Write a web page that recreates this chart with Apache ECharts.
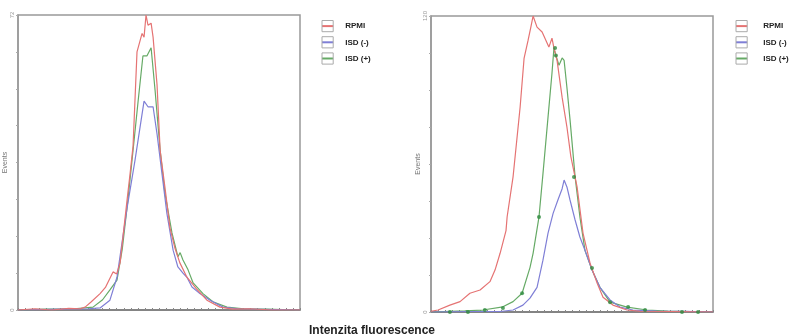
<!DOCTYPE html>
<html>
<head>
<meta charset="utf-8">
<script src="https://cdn.jsdelivr.net/npm/echarts@6/dist/echarts.min.js"></script>
<style>
  html, body { margin: 0; padding: 0; background: #fff; }
  #chart { width: 789px; height: 336px; }
</style>
</head>
<body>
<div id="chart"></div>
<script>
// canali di fluorescenza (0-100), eventi per canale
const seriesNames = ['RPMI', 'ISD (-)', 'ISD (+)'];
const colors = ['#e57373', '#7f7fd6', '#66aa66'];

// pannello sinistro (0 - 72 eventi)
const leftMax = 72;
const leftRPMI = [[0,0],[6,0.3],[12,0],[18,0.4],[22,0.3],[23.8,0.7],[26,2],[29.1,4],[31,5.5],[33.7,9.3],[35,8.8],[36.2,11.5],[38.7,27],[39.7,33],[40.8,40],[42.2,63],[44,67.5],[44.7,66.6],[45.4,72],[46.1,69.5],[47.2,70],[47.9,66.6],[49.3,55],[50.4,39],[52.1,30],[53.9,20],[55.7,15],[57.4,11.5],[59.9,8],[63.5,5],[67,2.4],[71.6,0.7],[76.2,0.2],[82,0.3],[90,0],[100,0]];
const leftISDminus = [[0,0],[15,0.2],[25,0.3],[29.1,0.5],[32.6,2.4],[35.1,8],[38.7,25],[41.5,36.6],[43.3,44.7],[44.7,51],[46.1,49.6],[47.9,49.6],[49.3,43],[51.1,33],[52.8,23.6],[55,14.6],[56.7,10.5],[58.5,9],[59.9,8],[61.7,5.6],[64.5,4],[68.1,2.4],[72.7,0.7],[78,0.3],[100,0]];
const leftISDplus = [[0,0],[10,0.2],[20,0.3],[26.6,0.7],[30,2.5],[32.6,4.9],[35.1,7.3],[37,15],[39,27],[40.8,39],[42.6,51],[44.3,62],[45.7,62],[47.2,64],[48.6,53.7],[50.4,39],[52.1,28.5],[54.6,18.8],[56.7,13],[57.5,14],[58.5,12.2],[60.3,9.8],[62.1,6.6],[65.6,4],[69.1,2],[74.1,0.7],[80,0.3],[88,0.2],[100,0]];

// pannello destro (0 - 120 eventi)
const rightMax = 120;
const rightRPMI = [[0,0.3],[2.5,0.8],[6.7,2.8],[10.3,4.2],[13.8,7.6],[17.4,8.9],[20.9,12.3],[22.7,17],[24.5,23.8],[26.6,33],[27,38.6],[29.1,54.8],[31.6,83],[33,102.8],[34.4,110],[35.5,116],[36.2,120],[37.6,115.5],[39.4,113.5],[41.8,107.4],[42.9,111],[43.6,107],[44.7,102],[46.5,87],[48.2,75],[49.6,63],[51.8,50.7],[53.9,32],[56.4,19.8],[58.9,11.7],[61,6],[64.5,2.8],[69.5,0.8],[74.1,0.3],[85,0.2],[100,0]];
const rightISDminus = [[0,0],[15,0.2],[24.5,0.2],[29.1,0.8],[32.6,2.8],[35.1,5.6],[37.6,10],[39.7,21],[41.5,32],[43.3,40],[45,45.4],[46.5,50],[47.2,53.5],[48.2,50.7],[49.3,45.4],[51.1,37.3],[52.8,30.4],[54.6,25],[57.1,17],[59.9,10],[63.5,4.9],[67,2],[71.6,0.8],[80,0.4],[90,0.3],[100,0]];
const rightISDplus = [[0,0],[6.7,0.3],[12,0.5],[18.4,0.8],[25.5,2.1],[29.1,4.2],[32.3,7.6],[35.1,18],[36.2,23.8],[38.3,38.6],[39.7,56],[41.5,79],[42.9,96.8],[43.6,107],[44.3,104],[45.4,100],[46.5,103],[47.2,102],[48.2,91],[49.3,78],[51.1,54.8],[52.8,38.6],[54.6,25],[57.1,17],[59.9,10],[63.5,4],[69.5,2],[76.6,0.8],[84,0.4],[100,0]];
// punti marcati sulla curva ISD (+)
const rightISDplusMarks = [[6.7,0],[13.1,0],[19.1,0.8],[25.5,1.6],[32.3,7.6],[38.3,38.5],[44,107],[44.3,104],[50.7,54.7],[57.1,17.8],[63.5,4],[69.9,2],[75.9,0.8],[89,0],[94.7,0]];

const chart = echarts.init(document.getElementById('chart'));

function yAxisFor(gridIndex, max) {
  return {
    type: 'value', gridIndex: gridIndex, min: 0, max: max, interval: max / 8,
    name: 'Events', nameLocation: 'middle', nameGap: 6,
    nameTextStyle: { fontSize: 7, color: '#777', fontFamily: 'Liberation Sans' },
    axisLine: { show: true, lineStyle: { color: '#999', width: 1.5 } },
    axisTick: { show: true, length: 2, lineStyle: { color: '#aaa' } },
    axisLabel: {
      show: true, rotate: 90, fontSize: 6, color: '#999', margin: 3,
      formatter: function (v) { return (v === 0 || v === max) ? String(v) : ''; }
    },
    splitLine: { show: false }
  };
}

function xAxisFor(gridIndex) {
  return {
    type: 'value', gridIndex: gridIndex, min: 0, max: 100, interval: 2.5,
    axisLine: { show: true, lineStyle: { color: '#777', width: 1.5 } },
    axisTick: { show: true, inside: true, length: 2, lineStyle: { color: '#888' } },
    axisLabel: { show: false },
    splitLine: { show: false }
  };
}

function lineSeries(name, idx, axisIndex, data) {
  return {
    name: name, type: 'line', xAxisIndex: axisIndex, yAxisIndex: axisIndex,
    data: data, showSymbol: false, symbol: 'rect', smooth: false,
    color: colors[idx],
    lineStyle: { width: 1.2, color: colors[idx] },
    silent: true, z: 3 - idx
  };
}

function legendFor(left, textPad) {
  return {
    orient: 'vertical', left: left, top: 15, itemGap: 4,
    itemWidth: 11.2, itemHeight: 14,
    data: seriesNames,
    itemStyle: { color: 'rgba(0,0,0,0)', borderColor: '#aaa', borderWidth: 1 },
    textStyle: { fontSize: 8, fontWeight: 'bold', color: '#222', fontFamily: 'Liberation Sans', padding: [0, 0, 0, textPad] }
  };
}

chart.setOption({
  animation: false,
  title: {
    text: 'Intenzita fluorescence', left: 304, top: 320,
    textStyle: { fontSize: 12, fontWeight: 'bold', color: '#222', fontFamily: 'Liberation Sans' }
  },
  legend: [legendFor(316, 7), legendFor(730, 11)],
  grid: [
    { left: 18, top: 15, width: 282, height: 295, show: true, borderColor: '#999', borderWidth: 1.5 },
    { left: 431, top: 16, width: 282, height: 296, show: true, borderColor: '#999', borderWidth: 1.5 }
  ],
  xAxis: [xAxisFor(0), xAxisFor(1)],
  yAxis: [yAxisFor(0, leftMax), yAxisFor(1, rightMax)],
  series: [
    lineSeries('RPMI', 0, 0, leftRPMI),
    lineSeries('ISD (-)', 1, 0, leftISDminus),
    lineSeries('ISD (+)', 2, 0, leftISDplus),
    lineSeries('RPMI', 0, 1, rightRPMI),
    lineSeries('ISD (-)', 1, 1, rightISDminus),
    lineSeries('ISD (+)', 2, 1, rightISDplus),
    {
      name: 'ISD (+) marks', type: 'scatter', xAxisIndex: 1, yAxisIndex: 1,
      data: rightISDplusMarks, symbol: 'circle', symbolSize: 4,
      itemStyle: { color: '#2e8b3e' }, silent: true, z: 5
    }
  ]
});
</script>
</body>
</html>
